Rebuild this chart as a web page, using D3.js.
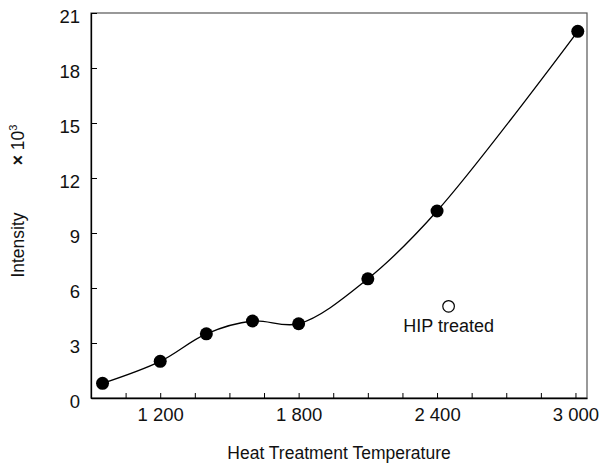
<!DOCTYPE html>
<html>
<head>
<meta charset="utf-8">
<script src="https://cdn.jsdelivr.net/npm/d3@7"></script>
<style>
  body { margin: 0; background: #fff; }
  svg text { font-family: "Liberation Sans", Arial, sans-serif; fill: #111; }
</style>
</head>
<body>
<svg id="chart" width="602" height="466"></svg>
<script>
// heat treatment temperature vs intensity (x10^3)
const temps = [950, 1200, 1400, 1600, 1800, 2100, 2400, 3010];
const intensity = [0.8, 2.0, 3.5, 4.2, 4.05, 6.5, 10.2, 20.0];
const hipTemps = [2450];
const hipIntensity = [5.0];
const xTicks = [1050, 1200, 1350, 1500, 1650, 1800, 1950, 2100, 2250, 2400, 2550, 2700, 2850, 3000];
const xLabels = [1200, 1800, 2400, 3000];
const yTicks = [0, 3, 6, 9, 12, 15, 18, 21];

const width = 602, height = 466;
const margin = {top: 13, right: 15, bottom: 68, left: 91};

const svg = d3.select("#chart");

const x = d3.scaleLinear().domain([900, 3050]).range([margin.left, width - margin.right]);
const y = d3.scaleLinear().domain([0, 21]).range([height - margin.bottom, margin.top]);

// thousands separated by a space, like "1 200"
const loc = d3.formatLocale({decimal: ".", thousands: " ", grouping: [3], currency: ["", ""]});
const fmt = loc.format(",");

// frame
svg.append("rect")
    .attr("x", x(900)).attr("y", y(21))
    .attr("width", x(3050) - x(900)).attr("height", y(0) - y(21))
    .attr("fill", "none").attr("stroke", "#555").attr("stroke-width", 1.2);

// x axis (ticks point inward)
const xAxis = d3.axisBottom(x)
    .tickValues(xTicks)
    .tickSize(-5)
    .tickSizeOuter(0)
    .tickFormat(d => xLabels.includes(d) ? fmt(d) : "");
const gx = svg.append("g")
    .attr("transform", `translate(0,${y(0)})`)
    .call(xAxis);
gx.select(".domain").attr("stroke", "#000").attr("stroke-width", 1.3);
gx.selectAll(".tick line").attr("stroke", "#000");
gx.selectAll(".tick text").attr("y", 10).attr("dy", "0.71em")
    .style("font-size", "18.5px").attr("fill", "#111");

// y axis
const yAxis = d3.axisLeft(y)
    .tickValues(yTicks)
    .tickSize(-6)
    .tickSizeOuter(0)
    .tickFormat(d3.format("d"));
const gy = svg.append("g")
    .attr("transform", `translate(${x(900)},0)`)
    .call(yAxis);
gy.select(".domain").attr("stroke", "#000").attr("stroke-width", 1.3);
gy.selectAll(".tick line").attr("stroke", "#000");
gy.selectAll(".tick text").attr("x", -11).attr("dy", "0.5em")
    .style("font-size", "18.5px").attr("fill", "#111");

// curve
const pts = temps.map((t, i) => [t, intensity[i]]);
const line = d3.line()
    .x(d => x(d[0]))
    .y(d => y(d[1]))
    .curve(d3.curveCatmullRom.alpha(0.5));

svg.append("path")
    .datum(pts)
    .attr("d", line)
    .attr("fill", "none")
    .attr("stroke", "#000")
    .attr("stroke-width", 1.3);

svg.selectAll("circle.pt")
    .data(pts)
    .enter().append("circle")
    .attr("class", "pt")
    .attr("cx", d => x(d[0]))
    .attr("cy", d => y(d[1]))
    .attr("r", 6.5)
    .attr("fill", "#000");

// HIP treated point
const hip = hipTemps.map((t, i) => [t, hipIntensity[i]]);
svg.selectAll("circle.hip")
    .data(hip)
    .enter().append("circle")
    .attr("class", "hip")
    .attr("cx", d => x(d[0]))
    .attr("cy", d => y(d[1]))
    .attr("r", 5.8)
    .attr("fill", "#fff")
    .attr("stroke", "#000")
    .attr("stroke-width", 1.2);

svg.selectAll("text.hiplabel")
    .data(hip)
    .enter().append("text")
    .attr("class", "hiplabel")
    .attr("x", d => x(d[0]))
    .attr("y", d => y(d[1]) + 26)
    .attr("text-anchor", "middle")
    .style("font-size", "18px")
    .text("HIP treated");

// axis titles
svg.append("text")
    .attr("x", (x(900) + x(3050)) / 2)
    .attr("y", 459)
    .attr("text-anchor", "middle")
    .style("font-size", "17.5px")
    .text("Heat Treatment Temperature");

svg.append("text")
    .attr("transform", "translate(24,245) rotate(-90)")
    .attr("text-anchor", "middle")
    .style("font-size", "17.5px")
    .text("Intensity");

const unit = svg.append("text")
    .attr("transform", "translate(24,145) rotate(-90)")
    .attr("text-anchor", "middle")
    .style("font-size", "17.5px");
unit.append("tspan").style("font-weight", "bold").text("× ");
unit.append("tspan").text("10");
unit.append("tspan").attr("dy", -7).style("font-size", "11px").text("3");
</script>
</body>
</html>
